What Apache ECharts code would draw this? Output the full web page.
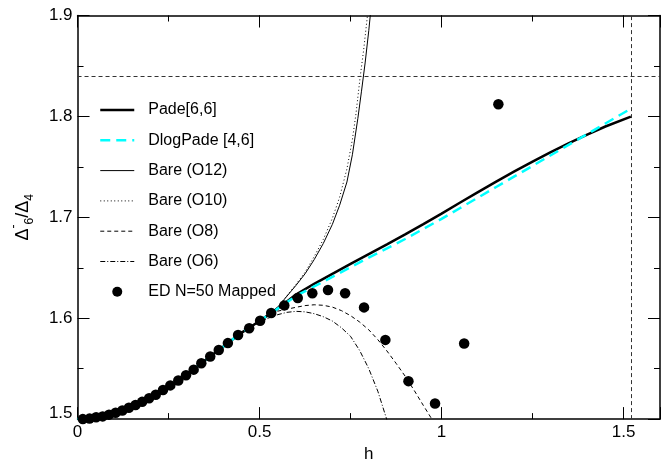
<!DOCTYPE html>
<html>
<head>
<meta charset="utf-8">
<script src="https://cdn.jsdelivr.net/npm/echarts@6/dist/echarts.min.js"></script>
<style>
  html, body { margin: 0; padding: 0; background: #fff; }
  #chart { width: 668px; height: 468px; }
</style>
</head>
<body>
<div id="chart"></div>
<script>
// Pade[6,6] approximant
const padeH = [0, 0.05, 0.1, 0.15, 0.2, 0.25, 0.3, 0.35, 0.4, 0.45, 0.5, 0.55, 0.6, 0.65, 0.7, 0.75, 0.8, 0.85, 0.9, 0.95, 1.0, 1.05, 1.1, 1.15, 1.2, 1.25, 1.3, 1.35, 1.4, 1.45, 1.52];
const padeV = [1.5, 1.5017, 1.5059, 1.5125, 1.5214, 1.5324, 1.5440, 1.5580, 1.5718, 1.5855, 1.5972, 1.6095, 1.6235, 1.6340, 1.6440, 1.6538, 1.6635, 1.6732, 1.6830, 1.6932, 1.7037, 1.7144, 1.7250, 1.7354, 1.7455, 1.7552, 1.7645, 1.7735, 1.7820, 1.7900, 1.7997];

// DlogPade [4,6]
const dlogH = [0, 0.05, 0.1, 0.15, 0.2, 0.25, 0.3, 0.35, 0.4, 0.45, 0.5, 0.55, 0.6, 0.65, 0.7, 0.75, 0.8, 0.85, 0.9, 0.95, 1.0, 1.05, 1.1, 1.15, 1.2, 1.25, 1.3, 1.35, 1.4, 1.45, 1.52];
const dlogV = [1.5, 1.5017, 1.5059, 1.5125, 1.5214, 1.5324, 1.5440, 1.5580, 1.5718, 1.5855, 1.5972, 1.6095, 1.6220, 1.6315, 1.6410, 1.6505, 1.6600, 1.6692, 1.6785, 1.6885, 1.6985, 1.7090, 1.7195, 1.7300, 1.7405, 1.7510, 1.7615, 1.7720, 1.7825, 1.7930, 1.8077];

// Bare series, order 12
const o12H = [0.45, 0.5, 0.55, 0.6, 0.625, 0.65, 0.675, 0.7, 0.72, 0.74, 0.755, 0.77, 0.78, 0.79, 0.8, 0.805];
const o12V = [1.5855, 1.5975, 1.6110, 1.6325, 1.6440, 1.6580, 1.6740, 1.6930, 1.7120, 1.7350, 1.7620, 1.7980, 1.8250, 1.8530, 1.8850, 1.9030];

// Bare series, order 10
const o10H = [0.45, 0.5, 0.55, 0.6, 0.625, 0.65, 0.675, 0.7, 0.72, 0.74, 0.755, 0.765, 0.776, 0.786, 0.797];
const o10V = [1.5855, 1.5975, 1.6110, 1.6335, 1.6455, 1.6610, 1.6780, 1.6990, 1.7200, 1.7480, 1.7770, 1.8030, 1.8380, 1.8660, 1.9020];

// Bare series, order 8
const o8H = [0.45, 0.5, 0.55, 0.6, 0.625, 0.65, 0.675, 0.7, 0.725, 0.75, 0.775, 0.8, 0.825, 0.85, 0.875, 0.9, 0.925, 0.95, 0.975];
const o8V = [1.5855, 1.5972, 1.6070, 1.6108, 1.6125, 1.6133, 1.6128, 1.6110, 1.6075, 1.6025, 1.5962, 1.5885, 1.5787, 1.5675, 1.5553, 1.5425, 1.5283, 1.5135, 1.4990];

// Bare series, order 6
const o6H = [0.45, 0.5, 0.525, 0.55, 0.575, 0.6, 0.625, 0.65, 0.675, 0.7, 0.725, 0.75, 0.775, 0.8, 0.825, 0.85];
const o6V = [1.5853, 1.5960, 1.6002, 1.6035, 1.6058, 1.6068, 1.6063, 1.6045, 1.6015, 1.5972, 1.5905, 1.5820, 1.5680, 1.5500, 1.5275, 1.4990];

// Exact diagonalisation, N=50, mapped
const edH = [0.0145, 0.033, 0.051, 0.069, 0.0865, 0.1046, 0.123, 0.141, 0.1593, 0.1775, 0.1966, 0.2148, 0.2348, 0.2548, 0.2767, 0.298, 0.319, 0.340, 0.3645, 0.388, 0.413, 0.441, 0.4715, 0.5015, 0.532, 0.568, 0.605, 0.645, 0.688, 0.735, 0.787, 0.8456, 0.909, 0.982, 1.062, 1.156];
const edV = [1.5000, 1.5005, 1.5018, 1.5027, 1.5044, 1.5063, 1.5086, 1.5112, 1.5139, 1.5171, 1.5207, 1.5242, 1.5288, 1.5334, 1.5382, 1.5434, 1.5490, 1.5554, 1.5620, 1.5685, 1.5753, 1.5834, 1.5900, 1.5974, 1.6052, 1.6127, 1.6200, 1.6247, 1.6280, 1.6247, 1.6107, 1.5785, 1.5376, 1.5154, 1.5750, 1.8120];

// Reference lines
const refLevel = [1.84];
const refField = [1.52];

// Axis ranges and tick steps
const xRange = [0, 1.6];
const yRange = [1.5, 1.9];
const xMajor = 0.5, xMinor = 0.25, yMajor = 0.1;

const names = ['Pade[6,6]', 'DlogPade [4,6]', 'Bare (O12)', 'Bare (O10)', 'Bare (O8)', 'Bare (O6)', 'ED N=50 Mapped'];

const FONT = '"Liberation Sans", Arial, Helvetica, sans-serif';
const pairs = (xs, ys) => xs.map((x, i) => [x, ys[i]]);

// stroke styles for the curves, in legend order
const styles = [
  { color: '#000', width: 2.5, type: 'solid' },
  { color: '#00ffff', width: 2.5, type: [10, 6] },
  { color: '#000', width: 1, type: 'solid' },
  { color: '#000', width: 1, type: [1, 2.5] },
  { color: '#000', width: 1, type: [4, 3] },
  { color: '#000', width: 1, type: [5, 2, 1, 2] }
];

const chart = echarts.init(document.getElementById('chart'), null, { renderer: 'canvas' });

const baseX = (pos, step, len, labels) => ({
  type: 'value', min: xRange[0], max: xRange[1], interval: step, position: pos,
  axisLine: { show: labels !== null, onZero: false, lineStyle: { color: '#000', width: 1.5 } },
  axisTick: { show: true, inside: true, length: len, lineStyle: { color: '#000', width: 1 } },
  axisLabel: labels ? labels : { show: false },
  splitLine: { show: false }
});

const xLabels = {
  show: true, color: '#000', fontSize: 17, fontFamily: FONT, margin: 5,
  formatter: v => (Math.abs(v - xRange[1]) < 1e-9 ? '' : String(v))
};

const xAxes = [
  Object.assign(baseX('bottom', xMajor, 12, xLabels), {
    name: 'h', nameLocation: 'middle', nameGap: 26,
    nameTextStyle: { color: '#000', fontSize: 17, fontFamily: FONT }
  }),
  baseX('bottom', xMinor, 6, null),
  baseX('top', xMajor, 12, { show: false }),
  baseX('top', xMinor, 6, null)
];

const baseY = (pos, labels) => ({
  type: 'value', min: yRange[0], max: yRange[1], interval: yMajor, position: pos,
  axisLine: { show: true, onZero: false, lineStyle: { color: '#000', width: 1.5 } },
  axisTick: { show: true, inside: true, length: 12, lineStyle: { color: '#000', width: 1 } },
  minorTick: { show: true, splitNumber: 2, length: 6, lineStyle: { color: '#000', width: 1 } },
  axisLabel: labels,
  splitLine: { show: false },
  minorSplitLine: { show: false }
});

const yAxes = [
  Object.assign(baseY('left', {
    show: true, color: '#000', fontSize: 17, fontFamily: FONT, margin: 5,
    formatter: v => (Math.abs(v - yRange[0]) < 1e-9 ? '{lift|' + v.toFixed(1) + '}' : v.toFixed(1)),
    rich: { lift: { fontSize: 17, fontFamily: FONT, color: '#000', padding: [0, 0, 12, 0] } }
  }), {
    name: '{a|Δ}{sp|-}{b|6}{a|/Δ}{b|4}',
    nameLocation: 'middle', nameRotate: 90, nameGap: 36,
    nameTextStyle: {
      color: '#000', fontFamily: FONT,
      rich: {
        a: { fontSize: 18, fontFamily: FONT, color: '#000', lineHeight: 30, verticalAlign: 'middle' },
        sp: { fontSize: 12, fontFamily: FONT, color: '#000', lineHeight: 30, verticalAlign: 'top' },
        b: { fontSize: 12, fontFamily: FONT, color: '#000', lineHeight: 30, verticalAlign: 'bottom', padding: [0, 0, 2, 0] }
      }
    }
  }),
  baseY('right', { show: false })
];

const lineSeries = (idx, xs, ys) => ({
  name: names[idx], type: 'line', xAxisIndex: 0, yAxisIndex: 0,
  data: pairs(xs, ys), showSymbol: false, symbol: 'none',
  smooth: false, clip: true,
  itemStyle: { color: styles[idx].color },
  lineStyle: styles[idx]
});

// legend entries: plain line samples for curves, a dot for the ED data
const hiddenMark = { color: 'rgba(0,0,0,0)', borderColor: 'rgba(0,0,0,0)', borderWidth: 0, opacity: 0 };
const legendData = names.map((n, i) => (i < 6
  ? { name: n, itemStyle: hiddenMark, lineStyle: { color: styles[i].color, width: styles[i].width, type: styles[i].type } }
  : { name: n }));

const option = {
  animation: false,
  backgroundColor: '#fff',
  grid: { left: 74, right: 8, top: 15.5, bottom: 42.5, containLabel: false },
  xAxis: xAxes,
  yAxis: yAxes,
  legend: {
    data: legendData,
    orient: 'vertical', left: 99, top: 102, padding: 0,
    itemWidth: 34, itemHeight: 10, itemGap: 14.3,
    textStyle: { color: '#000', fontSize: 16, fontFamily: FONT, padding: [0, 0, 0, 9] },
    selectedMode: false
  },
  series: [
    lineSeries(5, o6H, o6V),
    lineSeries(4, o8H, o8V),
    lineSeries(3, o10H, o10V),
    lineSeries(2, o12H, o12V),
    Object.assign(lineSeries(0, padeH, padeV), {
      markLine: {
        silent: true, symbol: 'none', animation: false,
        label: { show: false },
        lineStyle: { color: '#333', width: 1, type: [4, 3] },
        data: [{ yAxis: refLevel[0] }, { xAxis: refField[0] }]
      }
    }),
    lineSeries(1, dlogH, dlogV),
    {
      name: names[6], type: 'scatter', xAxisIndex: 0, yAxisIndex: 0,
      data: pairs(edH, edV), symbol: 'circle', symbolSize: 10.5,
      itemStyle: { color: '#000', opacity: 1 }, z: 5
    }
  ]
};

chart.setOption(option);
</script>
</body>
</html>
